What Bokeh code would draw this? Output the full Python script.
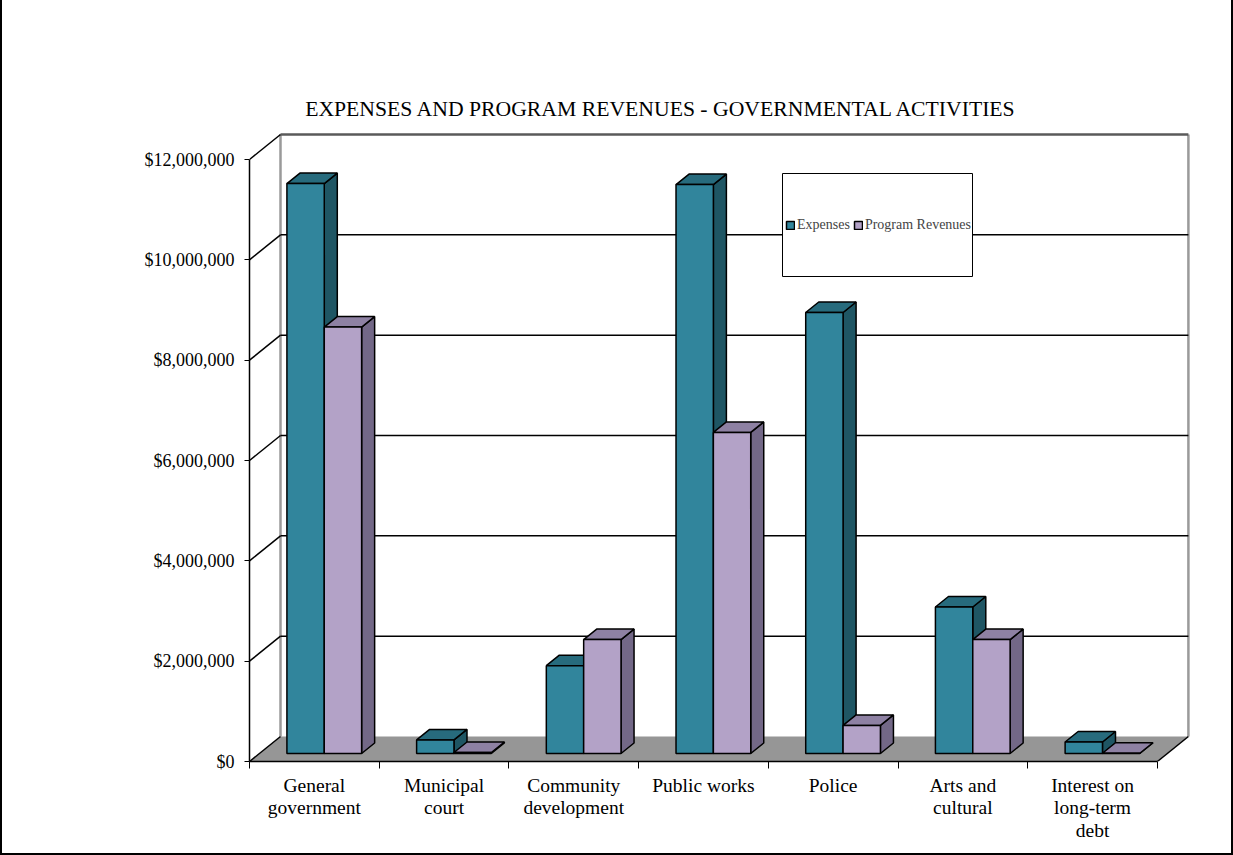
from bokeh.plotting import figure
from bokeh.models import (Range1d, FixedTicker, NumeralTickFormatter, Legend, LegendItem,
                          BoxAnnotation, Label)
from bokeh.embed import file_html
from bokeh.resources import INLINE

# ---------------- data ----------------
categories = ["General\ngovernment", "Municipal\ncourt", "Community\ndevelopment",
              "Public works", "Police", "Arts and\ncultural", "Interest on\nlong-term\ndebt"]
expenses = [11360000, 270000, 1750000, 11340000, 8790000, 2920000, 230000]
program_revenues = [8500000, 20000, 2270000, 6400000, 560000, 2270000, 5000]
series_names = ["Expenses", "Program Revenues"]
y_ticks = [0, 2000000, 4000000, 6000000, 8000000, 10000000, 12000000]
title_text = "EXPENSES AND PROGRAM REVENUES - GOVERNMENTAL ACTIVITIES"

# ---------------- layout / style ----------------
W, H = 1233, 855
FRAME_L, FRAME_R, FRAME_B = 249, 1193, 761
CAT_PX = 129.7                 # pixels per category
PX_PER_Y = 602 / 12e6          # pixels per dollar
DX = 31 / CAT_PX               # depth offset (x, category units)
DY = 25 / PX_PER_Y             # depth offset (y, dollars)
D0, D1 = 0.32, 0.74            # bar front / back depth fraction
BAR_START, BAR_W = 0.212, 0.288
FONT = "Liberation Serif"

TEAL = ("#31859C", "#276B7D", "#1F5664")     # front, top, side
LILAC = ("#B3A2C7", "#8E81A3", "#736887")
FLOOR = "#969696"

n = len(categories)
p = figure(width=W, height=H,
           x_range=Range1d(0, (FRAME_R - FRAME_L) / CAT_PX),
           y_range=Range1d(0, FRAME_B / PX_PER_Y),
           min_border_left=FRAME_L, min_border_right=W - FRAME_R,
           min_border_top=0, min_border_bottom=H - FRAME_B,
           output_backend="svg", toolbar_location=None)
p.background_fill_color = None
p.border_fill_color = None
p.outline_line_color = None
p.xgrid.visible = False
p.ygrid.visible = False
p.styles = {"box-shadow": "inset 2px 0 0 #000, inset -2px 0 0 #000, inset 0 -2px 0 #000"}

# ---------------- floor & walls ----------------
p.patch([0, n, n + DX, DX], [0, 0, DY, DY], fill_color=FLOOR, line_color=None)
top_y = y_ticks[-1] + DY
p.segment(x0=[DX], y0=[DY], x1=[DX], y1=[top_y], line_color="#9A9A9A", line_width=2.5)
p.segment(x0=[n + DX], y0=[DY], x1=[n + DX], y1=[top_y], line_color="#9A9A9A", line_width=2.5)
p.segment(x0=[DX], y0=[top_y], x1=[n + DX], y1=[top_y], line_color="#5A5A5A", line_width=2.5)
# gridlines on back wall
grid_vals = y_ticks[1:-1]
p.segment(x0=[DX] * len(grid_vals), y0=[v + DY for v in grid_vals],
          x1=[n + DX] * len(grid_vals), y1=[v + DY for v in grid_vals],
          line_color="black", line_width=1.5)
# diagonals on side wall from the front axis
p.segment(x0=[0] * len(y_ticks), y0=y_ticks, x1=[DX] * len(y_ticks),
          y1=[v + DY for v in y_ticks], line_color="black", line_width=1.5)
# floor right edge
p.segment(x0=[n], y0=[0], x1=[n + DX], y1=[DY], line_color="black", line_width=1.5)

# ---------------- 3D bars ----------------
legend_items = []
for s, (vals, cols) in enumerate([(expenses, TEAL), (program_revenues, LILAC)]):
    x0 = [i + BAR_START + s * BAR_W for i in range(n)]
    x1 = [x + BAR_W for x in x0]
    fx0 = [x + D0 * DX for x in x0]
    fx1 = [x + D0 * DX for x in x1]
    bx1 = [x + D1 * DX for x in x1]
    bx0 = [x + D1 * DX for x in x0]
    fb, bb = D0 * DY, D1 * DY
    side_xs = [[fx1[i], bx1[i], bx1[i], fx1[i]] for i in range(n)]
    side_ys = [[fb, bb, vals[i] + bb, vals[i] + fb] for i in range(n)]
    top_xs = [[fx0[i], fx1[i], bx1[i], bx0[i]] for i in range(n)]
    top_ys = [[vals[i] + fb, vals[i] + fb, vals[i] + bb, vals[i] + bb] for i in range(n)]
    p.patches(side_xs, side_ys, fill_color=cols[2], line_color="black", line_width=1.5)
    p.patches(top_xs, top_ys, fill_color=cols[1], line_color="black", line_width=1.5)
    r = p.quad(left=fx0, right=fx1, bottom=[fb] * n, top=[v + fb for v in vals],
               fill_color=cols[0], line_color="black", line_width=1.5)
    legend_items.append(LegendItem(label=series_names[s], renderers=[r]))

# ---------------- axes ----------------
yax = p.yaxis[0]
yax.ticker = FixedTicker(ticks=y_ticks, minor_ticks=[])
yax.formatter = NumeralTickFormatter(format="$0,0")
yax.bounds = (y_ticks[0], y_ticks[-1])
yax.major_tick_out = 5
yax.major_tick_in = 0
yax.major_tick_line_color = "black"
yax.axis_line_color = "black"
yax.axis_line_width = 1.5
yax.major_label_text_font = FONT
yax.major_label_text_font_size = "18px"
yax.major_label_text_color = "black"
yax.major_label_standoff = 10

xax = p.xaxis[0]
centers = [i + 0.5 for i in range(n)]
xax.ticker = FixedTicker(ticks=centers, minor_ticks=list(range(n + 1)))
xax.major_label_overrides = {c: lab for c, lab in zip(centers, categories)}
xax.bounds = (0, n)
xax.major_tick_line_color = None
xax.major_tick_out = 0
xax.major_tick_in = 0
xax.minor_tick_out = 7
xax.minor_tick_in = 0
xax.minor_tick_line_color = "black"
xax.axis_line_color = "black"
xax.axis_line_width = 1.5
xax.major_label_text_font = FONT
xax.major_label_text_font_size = "19.5px"
xax.major_label_text_color = "black"
xax.major_label_text_line_height = 1.08
xax.major_label_standoff = 6

# ---------------- title ----------------
p.add_layout(Label(x=(661 - FRAME_L) / CAT_PX, y=(FRAME_B - 108) / PX_PER_Y, text=title_text,
                   text_align="center", text_baseline="middle", text_font=FONT,
                   text_font_size="21.7px", text_color="black"))

# ---------------- legend ----------------
box = BoxAnnotation(left=(782 - FRAME_L) / CAT_PX, right=(972 - FRAME_L) / CAT_PX,
                    bottom=(FRAME_B - 276) / PX_PER_Y, top=(FRAME_B - 173) / PX_PER_Y,
                    fill_color="white", fill_alpha=1.0, line_color="black", line_width=1,
                    line_alpha=1.0)
p.add_layout(box)
legend = Legend(items=legend_items, orientation="horizontal", location=(536, 528),
                glyph_width=10, glyph_height=10, label_standoff=2, spacing=3,
                padding=0, margin=0, label_height=16,
                label_text_font=FONT, label_text_font_size="14px",
                border_line_color=None, background_fill_alpha=0)
p.add_layout(legend)

open("out.html", "w").write(file_html(p, INLINE))
